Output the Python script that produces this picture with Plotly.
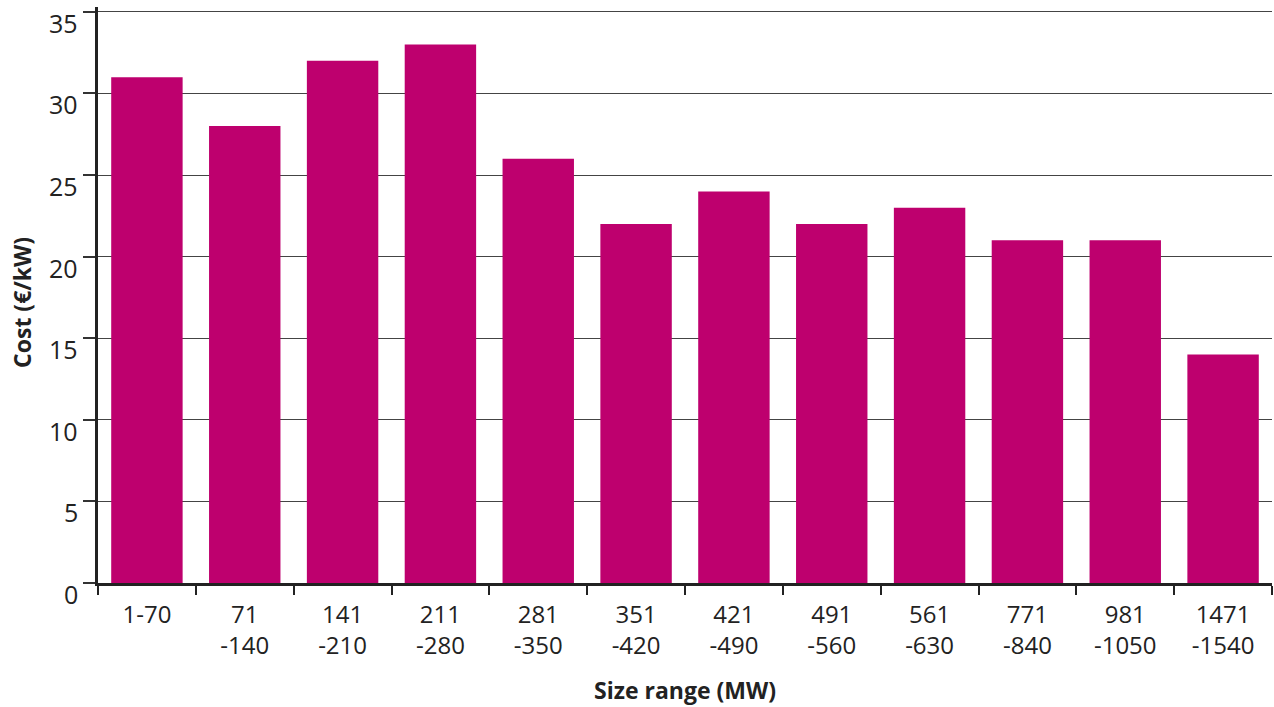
import plotly.graph_objects as go

categories = ["1-70", "71<br>-140", "141<br>-210", "211<br>-280", "281<br>-350", "351<br>-420",
              "421<br>-490", "491<br>-560", "561<br>-630", "771<br>-840", "981<br>-1050", "1471<br>-1540"]
costs = [31, 28, 32, 33, 26, 22, 24, 22, 23, 21, 21, 14]
y_ticks = [0, 5, 10, 15, 20, 25, 30, 35]

fig = go.Figure(go.Bar(x=categories, y=costs, marker_color="#BE006E", marker_line_width=0, width=0.73))

font = "Open Sans"
# plot area: x 98..1272, y(0)=583, y(35)=12 -> 16.314 px per unit
ymax = 35.3
top = 583 - ymax * (571 / 35)

annotations = [
    dict(text="<b>Size range (MW)</b>", xref="paper", yref="paper", x=(685 - 98) / 1174,
         y=-(690 - 583) / (583 - top),
         xanchor="center", yanchor="middle", showarrow=False, font=dict(size=23, family=font, color="#222")),
    dict(text="<b>Cost (€/kW)</b>", xref="paper", yref="paper", x=-(98 - 22) / 1174,
         y=(583 - 303) / (583 - top),
         xanchor="center", yanchor="middle", showarrow=False, textangle=-90,
         font=dict(size=23, family=font, color="#222")),
]
# y tick labels sit just below their tick lines, as in the reference
for v in y_ticks:
    annotations.append(dict(text=str(v), xref="paper", yref="y", x=0, y=v, xanchor="right",
                            yanchor="middle", xshift=-18, yshift=-11, showarrow=False,
                            font=dict(size=25, family=font, color="#222")))

fig.update_layout(
    width=1274, height=707,
    margin=dict(l=98, r=2, t=top, b=124, autoexpand=False),
    paper_bgcolor="white", plot_bgcolor="white",
    showlegend=False,
    font=dict(family=font, color="#222222"),
    bargap=0.27,
    annotations=annotations,
)
fig.update_xaxes(
    type="category", tickson="boundaries", ticks="outside", ticklen=9, tickwidth=2, tickcolor="#222",
    showline=True, linecolor="#222", linewidth=2.5, showgrid=False, automargin=False,
    tickfont=dict(size=24, family=font, color="#222"), ticklabelstandoff=8,
)
fig.update_yaxes(
    range=[0, ymax], tickvals=y_ticks, ticks="outside", ticklen=12, tickwidth=1.5, tickcolor="#333",
    showline=True, linecolor="#222", linewidth=2.5, automargin=False,
    showgrid=True, gridcolor="#444", gridwidth=1.2, zeroline=False,
    showticklabels=False,
)
fig.write_html("out.html", post_script="document.body.style.margin='0';",
               config={"displayModeBar": False})
